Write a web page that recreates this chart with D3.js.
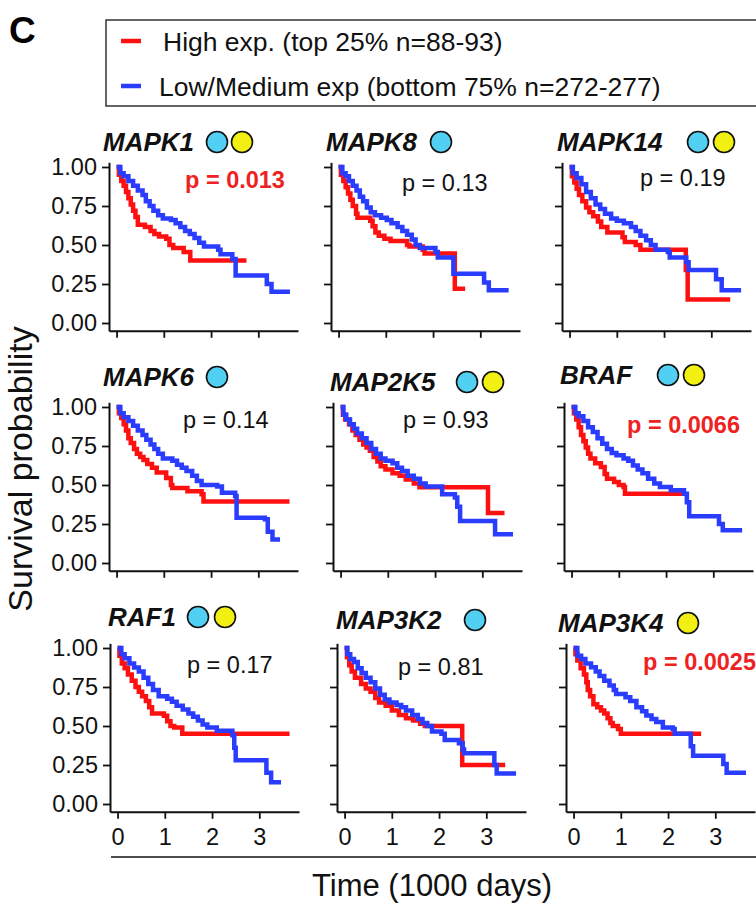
<!DOCTYPE html>
<html>
<head>
<meta charset="utf-8">
<script src="https://cdn.jsdelivr.net/npm/d3@7"></script>
<style>
  body { margin: 0; background: #fff; }
  svg { display: block; }
  text { font-family: "Liberation Sans", Arial, sans-serif; }
</style>
</head>
<body>
<div id="chart"></div>
<script>
// ---- data (time in 1000 days, survival probability) ----
const genes = ["MAPK1", "MAPK8", "MAPK14", "MAPK6", "MAP2K5", "BRAF", "RAF1", "MAP3K2", "MAP3K4"]
const pLabels = ["p = 0.013", "p = 0.13", "p = 0.19", "p = 0.14", "p = 0.93", "p = 0.0066", "p = 0.17", "p = 0.81", "p = 0.0025"]
const pSignificant = [true, false, false, false, false, true, false, false, true]
const geneDots = [["cyan", "yellow"], ["cyan"], ["cyan", "yellow"], ["cyan"], ["cyan", "yellow"], ["cyan", "yellow"], ["cyan", "yellow"], ["cyan"], ["yellow"]]
const yTicks = [0, 0.25, 0.5, 0.75, 1]
const xTicks = [0, 1, 2, 3]
const legendLabels = ["High exp. (top 25% n=88-93)", "Low/Medium exp (bottom 75% n=272-277)"]

const mapk1High = [[0,1],[0.05,0.95],[0.1,0.91],[0.15,0.88],[0.2,0.84],[0.25,0.8],[0.3,0.76],[0.35,0.72],[0.4,0.68],[0.45,0.63],[0.6,0.615],[0.72,0.59],[0.8,0.57],[0.9,0.555],[1.05,0.54],[1.12,0.5],[1.2,0.48],[1.42,0.455],[1.56,0.4],[2.75,0.4]]
const mapk1Low = [[0,1],[0.08,0.96],[0.15,0.94],[0.25,0.91],[0.35,0.88],[0.45,0.85],[0.55,0.82],[0.62,0.78],[0.7,0.75],[0.78,0.72],[0.88,0.69],[0.98,0.67],[1.15,0.66],[1.25,0.64],[1.35,0.615],[1.45,0.59],[1.55,0.57],[1.65,0.545],[1.75,0.515],[1.85,0.49],[2.15,0.47],[2.2,0.44],[2.45,0.41],[2.52,0.305],[3.12,0.305],[3.18,0.25],[3.28,0.2],[3.67,0.2]]

const mapk8High = [[0,1],[0.05,0.95],[0.1,0.91],[0.15,0.87],[0.2,0.83],[0.25,0.79],[0.3,0.75],[0.37,0.7],[0.4,0.675],[0.67,0.655],[0.72,0.62],[0.78,0.58],[0.85,0.56],[0.97,0.54],[1.1,0.525],[1.45,0.5],[1.5,0.49],[1.78,0.47],[1.82,0.445],[2.46,0.22],[2.68,0.22]]
const mapk8Low = [[0,1],[0.08,0.96],[0.15,0.94],[0.22,0.91],[0.3,0.88],[0.38,0.85],[0.45,0.81],[0.52,0.78],[0.6,0.74],[0.68,0.71],[0.77,0.69],[0.9,0.675],[1.02,0.66],[1.12,0.64],[1.25,0.615],[1.35,0.59],[1.45,0.565],[1.55,0.535],[1.63,0.5],[1.72,0.48],[2.05,0.455],[2.1,0.42],[2.43,0.316],[3.03,0.316],[3.08,0.26],[3.18,0.21],[3.6,0.21]]

const mapk14High = [[0,1],[0.05,0.94],[0.1,0.9],[0.15,0.86],[0.2,0.82],[0.27,0.78],[0.35,0.74],[0.42,0.71],[0.5,0.685],[0.6,0.65],[0.67,0.615],[0.8,0.58],[1.12,0.55],[1.17,0.52],[1.4,0.5],[1.5,0.47],[2.44,0.47],[2.46,0.34],[2.5,0.15],[3.4,0.15]]
const mapk14Low = [[0,1],[0.07,0.96],[0.15,0.93],[0.25,0.89],[0.35,0.84],[0.45,0.8],[0.55,0.76],[0.65,0.73],[0.75,0.7],[0.88,0.67],[1.0,0.655],[1.15,0.64],[1.3,0.615],[1.4,0.59],[1.5,0.56],[1.62,0.53],[1.72,0.5],[1.82,0.47],[2.08,0.455],[2.12,0.42],[2.47,0.39],[2.52,0.34],[3.05,0.34],[3.1,0.28],[3.22,0.21],[3.63,0.21]]

const mapk6High = [[0,1],[0.05,0.96],[0.1,0.93],[0.15,0.89],[0.2,0.85],[0.25,0.8],[0.3,0.77],[0.37,0.73],[0.43,0.7],[0.5,0.68],[0.57,0.66],[0.65,0.635],[0.75,0.61],[0.85,0.58],[1.05,0.545],[1.15,0.5],[1.18,0.48],[1.5,0.46],[1.8,0.44],[1.84,0.395],[3.66,0.395]]
const mapk6Low = [[0,1],[0.08,0.96],[0.15,0.935],[0.25,0.91],[0.35,0.88],[0.45,0.85],[0.55,0.82],[0.63,0.79],[0.72,0.76],[0.8,0.73],[0.88,0.7],[0.98,0.67],[1.18,0.655],[1.28,0.63],[1.38,0.61],[1.48,0.59],[1.6,0.56],[1.7,0.525],[1.8,0.5],[2.13,0.49],[2.23,0.45],[2.51,0.43],[2.54,0.29],[3.14,0.28],[3.2,0.2],[3.3,0.15],[3.46,0.15]]

const map2k5High = [[0,1],[0.05,0.95],[0.1,0.92],[0.18,0.89],[0.25,0.85],[0.32,0.82],[0.4,0.79],[0.48,0.76],[0.55,0.74],[0.62,0.72],[0.7,0.68],[0.78,0.65],[0.85,0.62],[0.95,0.6],[1.1,0.575],[1.25,0.56],[1.38,0.535],[1.55,0.51],[1.67,0.485],[3.12,0.32],[3.47,0.32]]
const map2k5Low = [[0,1],[0.06,0.95],[0.12,0.92],[0.2,0.89],[0.28,0.86],[0.35,0.83],[0.45,0.8],[0.55,0.77],[0.65,0.73],[0.75,0.7],[0.85,0.67],[0.95,0.655],[1.1,0.64],[1.2,0.61],[1.3,0.59],[1.42,0.56],[1.55,0.54],[1.68,0.51],[1.8,0.49],[2.15,0.44],[2.42,0.42],[2.47,0.36],[2.53,0.27],[3.23,0.27],[3.27,0.185],[3.65,0.185]]

const brafHigh = [[0,1],[0.05,0.96],[0.1,0.92],[0.15,0.87],[0.2,0.82],[0.25,0.78],[0.3,0.74],[0.35,0.7],[0.4,0.67],[0.5,0.64],[0.62,0.615],[0.7,0.57],[0.75,0.54],[0.9,0.52],[1.0,0.5],[1.1,0.487],[1.13,0.444],[2.4,0.444]]
const brafLow = [[0,1],[0.08,0.96],[0.15,0.94],[0.25,0.91],[0.35,0.87],[0.45,0.84],[0.55,0.8],[0.65,0.765],[0.75,0.73],[0.85,0.705],[0.95,0.69],[1.1,0.67],[1.2,0.655],[1.3,0.625],[1.4,0.6],[1.5,0.575],[1.62,0.54],[1.75,0.51],[1.87,0.487],[2.1,0.466],[2.38,0.444],[2.44,0.39],[2.49,0.3],[3.06,0.3],[3.12,0.25],[3.2,0.21],[3.61,0.21]]

const raf1High = [[0,1],[0.04,0.95],[0.09,0.9],[0.15,0.87],[0.22,0.83],[0.3,0.79],[0.38,0.75],[0.45,0.72],[0.52,0.69],[0.6,0.66],[0.67,0.62],[0.73,0.58],[0.98,0.565],[1.05,0.53],[1.12,0.5],[1.2,0.49],[1.37,0.45],[3.64,0.45]]
const raf1Low = [[0,1],[0.08,0.96],[0.15,0.935],[0.25,0.9],[0.35,0.875],[0.45,0.85],[0.55,0.81],[0.65,0.77],[0.75,0.73],[0.87,0.69],[1.05,0.675],[1.15,0.655],[1.25,0.63],[1.38,0.605],[1.5,0.58],[1.6,0.56],[1.7,0.535],[1.8,0.51],[1.9,0.49],[2.1,0.47],[2.43,0.44],[2.47,0.36],[2.5,0.28],[3.1,0.28],[3.15,0.2],[3.25,0.14],[3.46,0.14]]

const map3k2High = [[0,1],[0.05,0.94],[0.1,0.89],[0.15,0.85],[0.22,0.81],[0.35,0.77],[0.45,0.74],[0.55,0.72],[0.65,0.68],[0.73,0.65],[0.87,0.63],[1.0,0.6],[1.15,0.57],[1.3,0.55],[1.45,0.535],[1.6,0.515],[1.7,0.5],[2.49,0.25],[3.4,0.25]]
const map3k2Low = [[0,1],[0.06,0.96],[0.12,0.93],[0.2,0.91],[0.28,0.87],[0.36,0.84],[0.45,0.81],[0.55,0.78],[0.65,0.74],[0.75,0.7],[0.85,0.67],[0.95,0.65],[1.1,0.635],[1.2,0.62],[1.3,0.6],[1.43,0.57],[1.55,0.545],[1.65,0.52],[1.75,0.5],[1.85,0.465],[2.05,0.45],[2.12,0.41],[2.42,0.39],[2.5,0.35],[2.53,0.325],[3.08,0.325],[3.17,0.25],[3.22,0.196],[3.63,0.196]]

const map3k4High = [[0,1],[0.04,0.96],[0.08,0.92],[0.15,0.87],[0.22,0.83],[0.27,0.78],[0.3,0.73],[0.35,0.69],[0.42,0.64],[0.5,0.62],[0.58,0.6],[0.65,0.58],[0.72,0.55],[0.78,0.52],[0.83,0.5],[0.94,0.48],[1.0,0.45],[2.7,0.45]]
const map3k4Low = [[0,1],[0.08,0.95],[0.16,0.93],[0.25,0.9],[0.37,0.876],[0.47,0.85],[0.55,0.82],[0.65,0.79],[0.76,0.76],[0.85,0.73],[0.9,0.705],[1.1,0.685],[1.2,0.66],[1.33,0.62],[1.45,0.595],[1.54,0.568],[1.65,0.545],[1.75,0.526],[1.89,0.49],[2.1,0.48],[2.14,0.45],[2.42,0.45],[2.48,0.37],[2.53,0.31],[3.1,0.31],[3.17,0.256],[3.24,0.2],[3.65,0.2]]

const highCurves = [mapk1High, mapk8High, mapk14High, mapk6High, map2k5High, brafHigh, raf1High, map3k2High, map3k4High]
const lowCurves = [mapk1Low, mapk8Low, mapk14Low, mapk6Low, map2k5Low, brafLow, raf1Low, map3k2Low, map3k4Low]

// ---- layout ----
const width = 756
const height = 903
const colors = { high: "#ff1010", low: "#2a3dff", sigText: "#ee2222", cyan: "#52d0f4", yellow: "#f2ef12" }

// y-axis x position, 1.00 line y, title start x / baseline, dot centres, p label start x / baseline
const panelLayout = [
    { ax: 109, top: 167, tx: 103, ty: 151, dots: [217, 242], px: 185, py: 188 },
    { ax: 331, top: 167, tx: 326, ty: 151, dots: [441], px: 402, py: 191 },
    { ax: 562, top: 167, tx: 557, ty: 151, dots: [698, 724], px: 640, py: 186 },
    { ax: 109, top: 407, tx: 103, ty: 386, dots: [217], px: 183, py: 428 },
    { ax: 333, top: 407, tx: 330, ty: 391, dots: [467, 493], px: 403, py: 428 },
    { ax: 564, top: 407, tx: 560, ty: 384, dots: [668, 694], px: 627, py: 433 },
    { ax: 110, top: 648, tx: 108, ty: 626, dots: [198, 225], px: 187, py: 673 },
    { ax: 337, top: 648, tx: 336, ty: 629, dots: [475], px: 398, py: 675 },
    { ax: 566, top: 648, tx: 558, ty: 632, dots: [688], px: 643, py: 670 },
]
const panelWidth = 189
const unitHeight = 156

const svg = d3.select("#chart").append("svg")
    .attr("width", width)
    .attr("height", height)

// panel letter
svg.append("text")
    .attr("x", 9)
    .attr("y", 43)
    .attr("font-size", 37)
    .attr("font-weight", "bold")
    .text("C")

// legend
const legend = svg.append("g")
legend.append("rect")
    .attr("x", 106)
    .attr("y", 20)
    .attr("width", 700)
    .attr("height", 86)
    .attr("fill", "none")
    .attr("stroke", "#333")
    .attr("stroke-width", 1.5)

legendLabels.forEach((label, i) => {
    const cy = 41 + i * 45
    legend.append("line")
        .attr("x1", 121).attr("x2", 141)
        .attr("y1", cy).attr("y2", cy)
        .attr("stroke", i == 0 ? colors.high : colors.low)
        .attr("stroke-width", 4.5)
    legend.append("text")
        .attr("x", i == 0 ? 163 : 159)
        .attr("y", cy + 10)
        .attr("font-size", 26.5)
        .attr("fill", "#111")
        .text(label)
})

// axis titles
svg.append("text")
    .attr("transform", "translate(32, 469) rotate(-90)")
    .attr("text-anchor", "middle")
    .attr("font-size", 34)
    .attr("fill", "#111")
    .text("Survival probability")

svg.append("text")
    .attr("x", 432)
    .attr("y", 896)
    .attr("text-anchor", "middle")
    .attr("font-size", 31)
    .attr("fill", "#111")
    .text("Time (1000 days)")

svg.append("line")
    .attr("x1", 111).attr("x2", width)
    .attr("y1", 857).attr("y2", 857)
    .attr("stroke", "#111")
    .attr("stroke-width", 1.5)

// panels
genes.forEach((gene, i) => {
    const lay = panelLayout[i]
    const col = i % 3
    const row = Math.floor(i / 3)

    const xScale = d3.scaleLinear()
        .domain([-0.16, 3.84])
        .range([lay.ax, lay.ax + panelWidth])

    const yScale = d3.scaleLinear()
        .domain([-0.05, 1.03])
        .range([lay.top + unitHeight * 1.05, lay.top - unitHeight * 0.03])

    const g = svg.append("g")

    // axes
    const yAxis = g.append("g")
        .attr("transform", `translate(${lay.ax},0)`)
        .call(d3.axisLeft(yScale)
            .tickValues(yTicks)
            .tickSize(7)
            .tickSizeOuter(0)
            .tickPadding(5)
            .tickFormat(col == 0 ? d3.format(".2f") : () => ""))
    const xAxis = g.append("g")
        .attr("transform", `translate(0,${yScale(-0.05)})`)
        .call(d3.axisBottom(xScale)
            .tickValues(xTicks)
            .tickSize(7)
            .tickSizeOuter(0)
            .tickPadding(10)
            .tickFormat(row == 2 ? d3.format("d") : () => ""))

    ;[yAxis, xAxis].forEach(ax => {
        ax.select(".domain").attr("stroke", "#111").attr("stroke-width", 2)
        ax.selectAll(".tick line").attr("stroke", "#111").attr("stroke-width", 1.8)
        ax.selectAll(".tick text")
            .attr("font-size", 23.5)
            .attr("font-family", "Liberation Sans, Arial, sans-serif")
            .attr("fill", "#111")
    })

    // curves
    const lineGenerator = d3.line()
        .x(d => xScale(d[0]))
        .y(d => yScale(d[1]))
        .curve(d3.curveStepAfter)

    g.append("path")
        .attr("d", lineGenerator(highCurves[i]))
        .attr("fill", "none")
        .attr("stroke", colors.high)
        .attr("stroke-width", 4.5)
    g.append("path")
        .attr("d", lineGenerator(lowCurves[i]))
        .attr("fill", "none")
        .attr("stroke", colors.low)
        .attr("stroke-width", 4.5)

    // title + dots
    g.append("text")
        .attr("x", lay.tx)
        .attr("y", lay.ty)
        .attr("font-size", 26)
        .attr("font-weight", "bold")
        .attr("font-style", "italic")
        .attr("fill", "#111")
        .text(gene)

    g.selectAll(".dot")
        .data(geneDots[i])
        .enter().append("circle")
        .attr("cx", (d, j) => lay.dots[j])
        .attr("cy", lay.ty - 9)
        .attr("r", 10.5)
        .attr("fill", d => colors[d])
        .attr("stroke", "#111")
        .attr("stroke-width", 1.6)

    // p value
    g.append("text")
        .attr("x", lay.px)
        .attr("y", lay.py)
        .attr("font-size", 23.5)
        .attr("font-weight", pSignificant[i] ? "bold" : "normal")
        .attr("fill", pSignificant[i] ? colors.sigText : "#111")
        .text(pLabels[i])
})
</script>
</body>
</html>
